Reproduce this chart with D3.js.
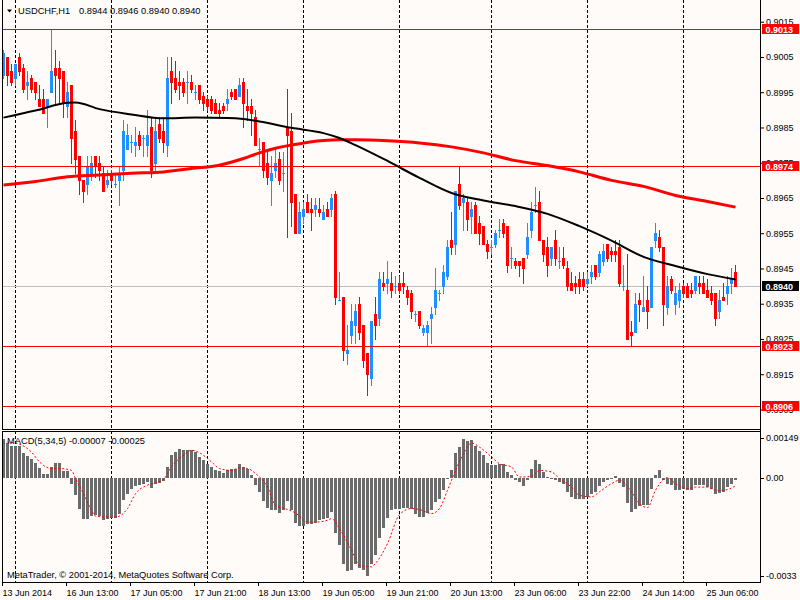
<!DOCTYPE html>
<html>
<head>
<meta charset="utf-8">
<script src="https://cdn.jsdelivr.net/npm/d3@7/dist/d3.min.js"></script>
<style>
  html, body { margin: 0; padding: 0; background: #fffbf8; }
  svg { display: block; }
  text { font-family: "Liberation Sans", Arial, sans-serif; font-size: 9px; fill: #000; }
  text.caption { font-size: 9.3px; }
</style>
</head>
<body>
<script>
// USDCHF H1, one value per bar (13 Jun 2014 21:00 .. 25 Jun 2014 13:00)
const open = [
  0.9000,0.9005,0.9001,0.8999,0.9005,0.9002,0.8997,0.8999,0.8998,0.8993,0.8993,0.8991,0.8995,0.9002,0.9002,0.9001,
  0.8991,0.8997,0.8984,0.8977,0.8970,0.8969,0.8972,0.8977,0.8975,0.8972,0.8969,0.8972,0.8969,0.8970,0.8973,0.8979,
  0.8981,0.8980,0.8983,0.8982,0.8980,0.8985,0.8975,0.8986,0.8984,0.8980,0.9001,0.8999,0.8998,0.8998,0.8998,0.8998,
  0.8995,0.8997,0.8994,0.8993,0.8993,0.8992,0.8990,0.8991,0.8992,0.8995,0.8996,0.8994,0.8998,0.8991,0.8991,0.8988,
  0.8979,0.8981,0.8975,0.8970,0.8973,0.8976,0.8972,0.8985,0.8984,0.8966,0.8955,0.8960,0.8964,0.8962,0.8962,0.8962,
  0.8959,0.8962,0.8962,0.8966,0.8936,0.8937,0.8921,0.8926,0.8929,0.8935,0.8929,0.8921,0.8914,0.8932,0.8931,0.8941,
  0.8941,0.8941,0.8940,0.8941,0.8941,0.8939,0.8938,0.8932,0.8933,0.8927,0.8927,0.8931,0.8934,0.8938,0.8940,0.8943,
  0.8953,0.8952,0.8969,0.8964,0.8964,0.8960,0.8963,0.8958,0.8957,0.8952,0.8951,0.8952,0.8956,0.8958,0.8957,0.8948,
  0.8947,0.8947,0.8948,0.8949,0.8956,0.8963,0.8964,0.8953,0.8951,0.8948,0.8953,0.8947,0.8948,0.8945,0.8941,0.8941,
  0.8942,0.8942,0.8941,0.8943,0.8946,0.8944,0.8947,0.8952,0.8950,0.8950,0.8951,0.8940,0.8939,0.8927,0.8927,0.8936,
  0.8933,0.8936,0.8934,0.8953,0.8954,0.8951,0.8934,0.8942,0.8935,0.8936,0.8940,0.8940,0.8939,0.8939,0.8941,0.8941,
  0.8939,0.8938,0.8938,0.8933,0.8937,0.8938,0.8941,0.8944
];
const high = [
  0.9007,0.9005,0.9003,0.9003,0.9006,0.9003,0.9001,0.9000,0.8998,0.8997,0.8996,0.8993,0.9013,0.9007,0.9004,0.9001,
  0.8998,0.8997,0.8987,0.8977,0.8970,0.8977,0.8977,0.8977,0.8977,0.8974,0.8973,0.8973,0.8972,0.8974,0.8987,0.8986,
  0.8983,0.8985,0.8984,0.8983,0.8990,0.8988,0.8988,0.8988,0.8988,0.9005,0.9005,0.9004,0.9001,0.8999,0.9001,0.9000,
  0.8997,0.8997,0.8995,0.8994,0.8994,0.8993,0.8992,0.8992,0.8996,0.8996,0.8996,0.8999,0.8999,0.8996,0.8993,0.8990,
  0.8982,0.8981,0.8978,0.8977,0.8979,0.8978,0.8978,0.8996,0.8989,0.8966,0.8964,0.8964,0.8966,0.8965,0.8965,0.8965,
  0.8963,0.8964,0.8966,0.8967,0.8944,0.8937,0.8929,0.8935,0.8935,0.8937,0.8929,0.8921,0.8930,0.8937,0.8944,0.8944,
  0.8947,0.8944,0.8943,0.8943,0.8944,0.8940,0.8939,0.8933,0.8933,0.8929,0.8930,0.8934,0.8945,0.8939,0.8946,0.8953,
  0.8961,0.8967,0.8974,0.8966,0.8965,0.8964,0.8964,0.8960,0.8957,0.8953,0.8953,0.8956,0.8959,0.8959,0.8957,0.8951,
  0.8948,0.8947,0.8948,0.8958,0.8964,0.8968,0.8967,0.8953,0.8954,0.8951,0.8956,0.8951,0.8951,0.8947,0.8944,0.8943,
  0.8944,0.8944,0.8944,0.8946,0.8946,0.8950,0.8952,0.8952,0.8951,0.8953,0.8953,0.8946,0.8949,0.8930,0.8938,0.8938,
  0.8943,0.8940,0.8951,0.8958,0.8956,0.8951,0.8943,0.8943,0.8940,0.8941,0.8941,0.8941,0.8941,0.8943,0.8943,0.8943,
  0.8942,0.8940,0.8938,0.8939,0.8941,0.8943,0.8945,0.8946
];
const low = [
  0.8999,0.8997,0.8997,0.8997,0.9000,0.8995,0.8993,0.8995,0.8993,0.8991,0.8989,0.8985,0.8995,0.8992,0.8992,0.8988,
  0.8988,0.8975,0.8972,0.8966,0.8964,0.8966,0.8970,0.8971,0.8970,0.8967,0.8968,0.8969,0.8968,0.8963,0.8970,0.8979,
  0.8978,0.8977,0.8979,0.8977,0.8977,0.8971,0.8972,0.8981,0.8978,0.8977,0.8992,0.8995,0.8993,0.8994,0.8992,0.8995,
  0.8993,0.8992,0.8990,0.8990,0.8989,0.8989,0.8988,0.8989,0.8990,0.8993,0.8993,0.8994,0.8985,0.8987,0.8983,0.8980,
  0.8974,0.8971,0.8969,0.8963,0.8971,0.8969,0.8967,0.8954,0.8957,0.8955,0.8955,0.8958,0.8961,0.8956,0.8960,0.8960,
  0.8959,0.8960,0.8960,0.8935,0.8936,0.8919,0.8918,0.8924,0.8924,0.8925,0.8917,0.8909,0.8912,0.8925,0.8929,0.8939,
  0.8938,0.8937,0.8938,0.8938,0.8938,0.8935,0.8931,0.8930,0.8928,0.8926,0.8923,0.8924,0.8932,0.8936,0.8938,0.8942,
  0.8949,0.8949,0.8962,0.8956,0.8956,0.8955,0.8955,0.8952,0.8952,0.8948,0.8949,0.8951,0.8954,0.8954,0.8944,0.8945,
  0.8945,0.8943,0.8941,0.8948,0.8954,0.8961,0.8953,0.8947,0.8943,0.8946,0.8946,0.8945,0.8945,0.8939,0.8939,0.8938,
  0.8938,0.8939,0.8940,0.8941,0.8942,0.8943,0.8946,0.8947,0.8947,0.8947,0.8940,0.8939,0.8925,0.8923,0.8927,0.8930,
  0.8933,0.8928,0.8934,0.8951,0.8950,0.8929,0.8932,0.8938,0.8932,0.8934,0.8937,0.8937,0.8937,0.8938,0.8938,0.8938,
  0.8937,0.8935,0.8929,0.8931,0.8936,0.8935,0.8938,0.8940
];
const close = [
  0.9006,0.9000,0.8998,0.9003,0.9001,0.8996,0.8998,0.8996,0.8995,0.8991,0.8989,0.8993,0.9001,0.9000,0.8999,0.8992,
  0.8995,0.8982,0.8976,0.8970,0.8967,0.8974,0.8975,0.8974,0.8973,0.8967,0.8970,0.8970,0.8969,0.8972,0.8984,0.8983,
  0.8981,0.8981,0.8980,0.8982,0.8983,0.8973,0.8984,0.8982,0.8981,0.8999,0.8998,0.8996,0.8997,0.8995,0.8998,0.8996,
  0.8995,0.8993,0.8992,0.8991,0.8990,0.8989,0.8989,0.8990,0.8993,0.8994,0.8993,0.8997,0.8992,0.8990,0.8989,0.8980,
  0.8979,0.8973,0.8971,0.8972,0.8975,0.8970,0.8972,0.8983,0.8964,0.8955,0.8961,0.8962,0.8961,0.8961,0.8963,0.8961,
  0.8961,0.8960,0.8965,0.8937,0.8936,0.8922,0.8922,0.8930,0.8933,0.8927,0.8919,0.8915,0.8930,0.8929,0.8942,0.8940,
  0.8942,0.8939,0.8940,0.8939,0.8940,0.8937,0.8933,0.8932,0.8929,0.8928,0.8929,0.8932,0.8939,0.8938,0.8944,0.8951,
  0.8951,0.8967,0.8963,0.8965,0.8959,0.8962,0.8955,0.8955,0.8952,0.8950,0.8951,0.8955,0.8956,0.8955,0.8946,0.8948,
  0.8946,0.8946,0.8945,0.8954,0.8961,0.8963,0.8953,0.8949,0.8946,0.8951,0.8948,0.8947,0.8946,0.8940,0.8939,0.8940,
  0.8940,0.8940,0.8942,0.8944,0.8943,0.8949,0.8950,0.8948,0.8949,0.8949,0.8941,0.8940,0.8925,0.8926,0.8935,0.8935,
  0.8934,0.8933,0.8951,0.8955,0.8951,0.8935,0.8940,0.8939,0.8938,0.8939,0.8938,0.8937,0.8938,0.8943,0.8940,0.8938,
  0.8937,0.8936,0.8931,0.8936,0.8936,0.8940,0.8942,0.8940
];

// moving averages at sample bars
const maBlackBars = [0, 8, 16, 18, 24, 32, 40, 48, 56, 60, 64, 72, 80, 84, 88, 96, 104, 112, 120, 128, 136, 144, 152, 160, 168, 176, 183];
const maBlack = [0.89878, 0.89898, 0.89920, 0.89921, 0.89902, 0.89887, 0.89876, 0.89878, 0.89877, 0.89874, 0.89867, 0.89849, 0.89834,
  0.89820, 0.89800, 0.89755, 0.89707, 0.89664, 0.89643, 0.89627, 0.89605, 0.89570, 0.89529, 0.89483, 0.89457, 0.89434, 0.89419];
const maRedBars = [0, 8, 16, 24, 32, 40, 48, 52, 60, 64, 68, 72, 80, 84, 88, 96, 104, 112, 120, 128, 136, 144, 152, 160, 168, 176, 183];
const maRed = [0.89687, 0.89697, 0.89710, 0.89715, 0.89720, 0.89724, 0.89735, 0.89739, 0.89762, 0.89778, 0.89791, 0.89800, 0.89813,
  0.89815, 0.89815, 0.89812, 0.89806, 0.89795, 0.89778, 0.89756, 0.89742, 0.89724, 0.89700, 0.89683, 0.89657, 0.89640, 0.89624];

// MACD(5,34,5) histogram, one value per bar
const macdHist = [
  0.00123,0.00112,0.00102,0.00102,0.00102,0.00080,0.00070,0.00059,0.00049,0.00032,0.00012,0.00012,0.00035,0.00047,0.00047,0.00022,
  0.00022,-0.00018,-0.00055,-0.00099,-0.00131,-0.00131,-0.00122,-0.00118,-0.00122,-0.00134,-0.00131,-0.00126,-0.00126,-0.00113,-0.00071,-0.00050,
  -0.00034,-0.00026,-0.00023,-0.00018,-0.00013,-0.00032,-0.00018,-0.00015,-0.00011,0.00035,0.00072,0.00082,0.00091,0.00088,0.00090,0.00088,
  0.00082,0.00067,0.00056,0.00045,0.00035,0.00026,0.00021,0.00017,0.00024,0.00027,0.00030,0.00045,0.00035,0.00030,0.00008,-0.00023,
  -0.00044,-0.00073,-0.00094,-0.00103,-0.00103,-0.00111,-0.00103,-0.00074,-0.00103,-0.00142,-0.00152,-0.00153,-0.00147,-0.00147,-0.00142,-0.00134,
  -0.00131,-0.00127,-0.00108,-0.00173,-0.00214,-0.00274,-0.00295,-0.00293,-0.00274,-0.00284,-0.00291,-0.00311,-0.00274,-0.00245,-0.00189,-0.00158,
  -0.00127,-0.00103,-0.00097,-0.00097,-0.00094,-0.00094,-0.00097,-0.00113,-0.00124,-0.00124,-0.00111,-0.00103,-0.00076,-0.00066,-0.00039,-0.00003,
  0.00024,0.00080,0.00098,0.00125,0.00117,0.00119,0.00100,0.00085,0.00072,0.00048,0.00040,0.00040,0.00043,0.00045,0.00019,0.00008,
  -0.00007,-0.00013,-0.00025,-0.00005,0.00030,0.00056,0.00045,0.00019,0.00003,-0.00002,-0.00007,-0.00013,-0.00018,-0.00044,-0.00060,-0.00066,
  -0.00068,-0.00068,-0.00060,-0.00050,-0.00044,-0.00025,-0.00013,-0.00007,-0.00004,0.00005,-0.00015,-0.00029,-0.00079,-0.00108,-0.00097,-0.00090,
  -0.00087,-0.00087,-0.00034,0.00008,0.00026,-0.00007,-0.00020,-0.00023,-0.00039,-0.00039,-0.00034,-0.00037,-0.00037,-0.00023,-0.00021,-0.00023,
  -0.00029,-0.00034,-0.00050,-0.00047,-0.00044,-0.00029,-0.00018,-0.00007
];
const signalBars = [1, 4, 7, 9, 12, 14, 17, 18, 20, 22, 23, 26, 28, 31, 33, 36, 38, 40, 42, 45, 47, 49, 52, 54, 57, 59, 61, 63, 66, 68,
  71, 73, 76, 78, 81, 82, 84, 87, 89, 92, 93, 96, 99, 102, 104, 107, 109, 111, 113, 115, 117, 119, 122, 124, 127, 129, 132, 134, 137, 139,
  142, 144, 147, 149, 152, 154, 157, 159, 161, 163, 166, 168, 171, 173, 176, 178, 180, 183];
const signal = [0.00114, 0.00107, 0.00082, 0.00051, 0.00030, 0.00030, 0.00024, -0.00002, -0.00050, -0.00103, -0.00121, -0.00124, -0.00124,
  -0.00097, -0.00050, -0.00023, -0.00015, -0.00005, 0.00035, 0.00072, 0.00088, 0.00080, 0.00051, 0.00030, 0.00024, 0.00032, 0.00030, 0.00014,
  -0.00029, -0.00087, -0.00100, -0.00111, -0.00140, -0.00140, -0.00134, -0.00129, -0.00161, -0.00229, -0.00277, -0.00282, -0.00271, -0.00208,
  -0.00116, -0.00097, -0.00100, -0.00113, -0.00097, -0.00039, 0.00024, 0.00077, 0.00111, 0.00098, 0.00067, 0.00045, 0.00035, 0.00003, 0.00005,
  0.00024, 0.00019, -0.00002, -0.00029, -0.00055, -0.00060, -0.00044, -0.00018, -0.00007, -0.00044, -0.00081, -0.00094, -0.00039, 0.00001,
  -0.00018, -0.00034, -0.00029, -0.00029, -0.00039, -0.00039, -0.00025];

const timeLabelBars = [0, 16, 32, 48, 64, 80, 96, 112, 128, 144, 160, 176];
const timeLabels = ['13 Jun 2014', '16 Jun 13:00', '17 Jun 05:00', '17 Jun 21:00', '18 Jun 13:00', '19 Jun 05:00',
  '19 Jun 21:00', '20 Jun 13:00', '23 Jun 06:00', '23 Jun 22:00', '24 Jun 14:00', '25 Jun 06:00'];
const daySeparatorBars = [3, 27, 51, 75, 99, 122, 146, 170];
const priceTicks = [0.9015, 0.9005, 0.8995, 0.8985, 0.8975, 0.8965, 0.8955, 0.8945, 0.8935, 0.8925, 0.8915, 0.8905];
const levels = [0.9013, 0.8974, 0.8923, 0.8906];
const bid = 0.8940;
const macdTicks = [0.00149, 0, -0.0033];
const macdTickLabels = ['0.00149', '0.00', '-0.0033'];

const width = 800, height = 600;
const left = 2, right = 760;
const mainBottom = 429, macdTop = 431, macdBottom = 582;
const bull = '#1e90ff', bear = '#ff0000';

const svg = d3.select('body').append('svg')
  .attr('width', width)
  .attr('height', height);

svg.append('rect').attr('width', width).attr('height', height).attr('fill', '#fffbf8');

const x = d3.scaleLinear().domain([0, open.length - 1]).range([3.5, 735.5]);
const y = d3.scaleLinear().domain([0.8900, 0.9020]).range([427.1, 4.1]);
const yM = d3.scaleLinear().domain([-0.0033, 0.00149]).range([macdBottom, macdTop]);
const py = (v) => Math.round(y(v));

// day separators in both windows
const grid = svg.append('g').attr('stroke', '#000').attr('stroke-dasharray', '3,2');
grid.selectAll('.sep-main')
  .data(daySeparatorBars)
  .enter().append('line')
  .attr('x1', (d) => x(d)).attr('x2', (d) => x(d))
  .attr('y1', 0).attr('y2', mainBottom);
grid.selectAll('.sep-macd')
  .data(daySeparatorBars)
  .enter().append('line')
  .attr('x1', (d) => x(d)).attr('x2', (d) => x(d))
  .attr('y1', macdTop).attr('y2', macdBottom);

// bid line
svg.append('line')
  .attr('x1', left).attr('x2', right)
  .attr('y1', py(bid) + 0.5).attr('y2', py(bid) + 0.5)
  .attr('stroke', '#c0c0c0');

// candles
const bars = d3.range(open.length);
const candle = svg.append('g').attr('shape-rendering', 'crispEdges');
candle.selectAll('.wick')
  .data(bars)
  .enter().append('rect')
  .attr('x', (i) => x(i) - 0.5)
  .attr('width', 1)
  .attr('y', (i) => py(high[i]))
  .attr('height', (i) => py(low[i]) - py(high[i]) + 1)
  .attr('fill', (i) => close[i] >= open[i] ? bull : bear);
candle.selectAll('.body')
  .data(bars)
  .enter().append('rect')
  .attr('x', (i) => x(i) - 1.5)
  .attr('width', 3)
  .attr('y', (i) => py(Math.max(open[i], close[i])))
  .attr('height', (i) => py(Math.min(open[i], close[i])) - py(Math.max(open[i], close[i])) + 1)
  .attr('fill', (i) => close[i] >= open[i] ? bull : bear);

// horizontal levels
svg.selectAll('.level')
  .data(levels)
  .enter().append('line')
  .attr('x1', left).attr('x2', right)
  .attr('y1', (d) => py(d) + 0.5).attr('y2', (d) => py(d) + 0.5)
  .attr('stroke', '#ff0000');

// moving averages
const maLine = d3.line().curve(d3.curveMonotoneX);
svg.append('path')
  .attr('d', maLine(maRedBars.map((b, k) => [x(b), y(maRed[k])])))
  .attr('fill', 'none').attr('stroke', '#ff0000').attr('stroke-width', 3);
svg.append('path')
  .attr('d', maLine(maBlackBars.map((b, k) => [x(b), y(maBlack[k])])))
  .attr('fill', 'none').attr('stroke', '#000').attr('stroke-width', 2);

// MACD histogram and signal
svg.append('g').attr('shape-rendering', 'crispEdges')
  .selectAll('rect')
  .data(bars)
  .enter().append('rect')
  .attr('x', (i) => x(i) - 1.5)
  .attr('width', 3)
  .attr('y', (i) => Math.round(Math.min(yM(0), yM(macdHist[i]))))
  .attr('height', (i) => Math.max(1, Math.round(Math.abs(yM(macdHist[i]) - yM(0)))))
  .attr('fill', '#6b6b6b');
svg.append('path')
  .attr('d', maLine(signalBars.map((b, k) => [x(b), yM(signal[k])])))
  .attr('fill', 'none').attr('stroke', '#ff0000').attr('stroke-width', 1)
  .attr('stroke-dasharray', '2,2');

// window frames
const frame = svg.append('g').attr('stroke', '#000').attr('shape-rendering', 'crispEdges');
frame.append('line').attr('x1', left + 0.5).attr('x2', left + 0.5).attr('y1', 0).attr('y2', mainBottom);
frame.append('line').attr('x1', left + 0.5).attr('x2', left + 0.5).attr('y1', macdTop).attr('y2', macdBottom + 1);
frame.append('line').attr('x1', right + 0.5).attr('x2', right + 0.5).attr('y1', 0).attr('y2', macdBottom + 1);
frame.append('line').attr('x1', left).attr('x2', right + 1).attr('y1', mainBottom + 0.5).attr('y2', mainBottom + 0.5);
frame.append('line').attr('x1', left).attr('x2', right + 1).attr('y1', macdTop + 0.5).attr('y2', macdTop + 0.5);
frame.append('line').attr('x1', left).attr('x2', right + 1).attr('y1', macdBottom + 0.5).attr('y2', macdBottom + 0.5);

// price axis
const yAxis = d3.axisRight(y)
  .tickValues(priceTicks)
  .tickSize(4)
  .tickPadding(2)
  .tickFormat(d3.format('.4f'));
svg.append('g')
  .attr('transform', `translate(${right},0)`)
  .call(yAxis)
  .call((g) => g.select('.domain').remove())
  .call((g) => g.selectAll('text').attr('font-size', 9).attr('font-family', '"Liberation Sans", Arial, sans-serif'));

// level and bid labels on the axis, drawn over the price ticks they cover
const tags = levels.map((v) => ({v, fill: '#ff0000'})).concat([{v: bid, fill: '#000'}]);
const tag = svg.selectAll('.tag')
  .data(tags)
  .enter().append('g')
  .attr('transform', (d) => `translate(762,${py(d.v)})`);
tag.append('rect')
  .attr('x', 0).attr('y', -5).attr('width', 37).attr('height', 10)
  .attr('fill', (d) => d.fill);
tag.append('text')
  .attr('x', 3.5).attr('y', 3.5)
  .style('fill', '#fff').style('font-weight', 'bold')
  .text((d) => d3.format('.4f')(d.v));

// MACD scale labels (MT4 keeps the end labels inside the window)
const macdLabelY = (v, k) => k === 0 ? yM(v) + 7 : (k === macdTicks.length - 1 ? yM(v) - 6 : yM(v));
const mt = svg.selectAll('.mtick')
  .data(macdTicks)
  .enter().append('g')
  .attr('transform', (d, k) => `translate(${right},${Math.round(macdLabelY(d, k)) + 0.5})`);
mt.append('line').attr('x1', 0).attr('x2', 4).attr('stroke', '#000');
mt.append('text').attr('x', 6).attr('dy', '0.32em').text((d, k) => macdTickLabels[k]);

// time axis
const tl = svg.selectAll('.tlab')
  .data(timeLabelBars)
  .enter().append('g')
  .attr('transform', (d) => `translate(${x(d) - 1},${macdBottom})`);
tl.append('line').attr('x1', 0).attr('x2', 0).attr('y1', 0).attr('y2', 4).attr('stroke', '#000');
tl.append('text').attr('x', 0).attr('y', 13.5).text((d, k) => timeLabels[k]);

// window captions
svg.append('path').attr('d', 'M7,9.5 L12,9.5 L9.5,12.5 Z').attr('fill', '#000');
svg.append('text').attr('class', 'caption').attr('x', 18).attr('y', 14).text('USDCHF,H1');
svg.append('text').attr('class', 'caption').attr('x', 79).attr('y', 14)
  .text([open, high, low, close].map((s) => d3.format('.4f')(s[s.length - 1])).join(' '));
svg.append('text').attr('class', 'caption').attr('x', 7).attr('y', 443.5).text('MACD(5,34,5) -0.00007 -0.00025');
svg.append('text').attr('class', 'caption').attr('x', 7).attr('y', 578).text('MetaTrader, © 2001-2014, MetaQuotes Software Corp.');
</script>
</body>
</html>
